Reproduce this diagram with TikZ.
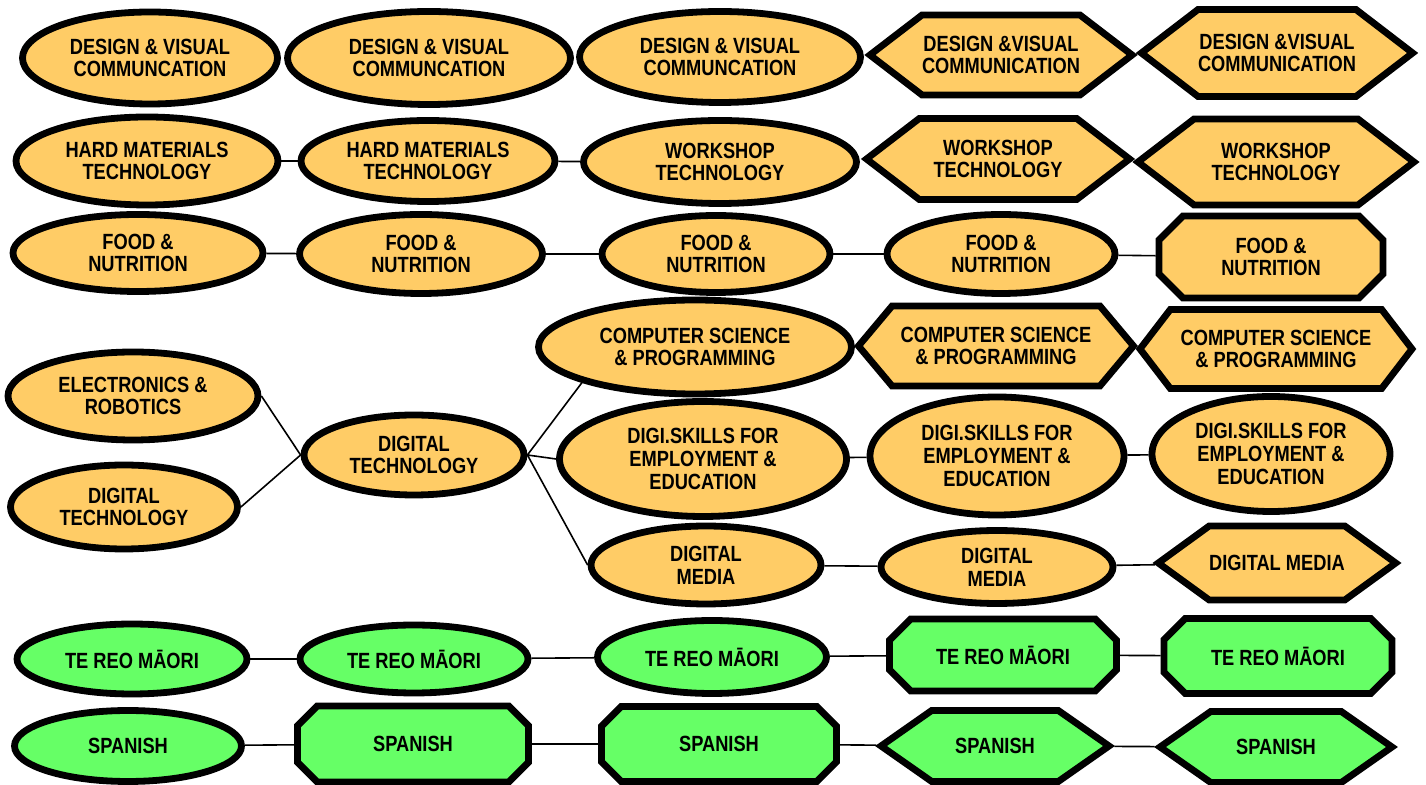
\documentclass[tikz,border=0pt]{standalone}
\usepackage{fontspec}
\setmainfont{Liberation Sans}[FakeStretch=0.83]
\usetikzlibrary{shapes.geometric,shapes.symbols,shapes.misc}
\definecolor{techfill}{RGB}{255,204,102}
\definecolor{langfill}{RGB}{102,255,102}
\begin{document}
\begin{tikzpicture}[x=0.5pt,y=-0.5pt,line join=miter,font=\bfseries\fontsize{11}{11.4}\selectfont,
	box/.style={draw=black,line width=3.4pt,align=center,inner sep=0pt,fill=techfill},
	oval/.style={box,ellipse},
	hexa/.style={box,signal,signal to=west and east,signal pointer angle=#1},
	hexa/.default=75,
	octa/.style={box,chamfered rectangle,chamfered rectangle xsep=6pt,chamfered rectangle ysep=6pt},
	lang/.style={fill=langfill},
	link/.style={line width=0.8pt}]
		\useasboundingbox (0,0) rectangle (1426,785);
		% design and visual communication
		\node[oval,minimum width=127.5pt,minimum height=46pt] (A1) at (150,58) {DESIGN \& VISUAL\\COMMUNCATION};
		\node[oval,minimum width=141.5pt,minimum height=46.5pt] (A2) at (429,58) {DESIGN \& VISUAL\\COMMUNCATION};
		\node[oval,minimum width=140.5pt,minimum height=45.5pt] (A3) at (720,57) {DESIGN \& VISUAL\\COMMUNCATION};
		\node[hexa,minimum width=127.5pt,minimum height=40pt] (A4) at (1001,55) {DESIGN \&VISUAL\\COMMUNICATION};
		\node[hexa,minimum width=129.5pt,minimum height=43.5pt] (A5) at (1277,53) {DESIGN \&VISUAL\\COMMUNICATION};
		% hard materials / workshop
		\node[oval,minimum width=131pt,minimum height=44pt] (B1) at (147,161) {HARD MATERIALS\\TECHNOLOGY};
		\node[oval,minimum width=127pt,minimum height=40.5pt] (B2) at (428,161) {HARD MATERIALS\\TECHNOLOGY};
		\node[oval,minimum width=136.5pt,minimum height=41.5pt] (B3) at (720,162) {WORKSHOP\\TECHNOLOGY};
		\node[hexa,minimum width=131.5pt,minimum height=40.5pt] (B4) at (998,159) {WORKSHOP\\TECHNOLOGY};
		\node[hexa,minimum width=138pt,minimum height=43pt] (B5) at (1276,162) {WORKSHOP\\TECHNOLOGY};
		% food
		\node[oval,minimum width=125pt,minimum height=38.5pt] (C1) at (138,253) {FOOD \&\\NUTRITION};
		\node[oval,minimum width=121.5pt,minimum height=39.5pt] (C2) at (421,254) {FOOD \&\\NUTRITION};
		\node[oval,minimum width=114pt,minimum height=38.5pt] (C3) at (716,254) {FOOD \&\\NUTRITION};
		\node[oval,minimum width=114pt,minimum height=39.5pt] (C4) at (1001,254) {FOOD \&\\NUTRITION};
		\node[octa,minimum width=112pt,minimum height=41pt] (C5) at (1271,257) {FOOD \&\\NUTRITION};
		% digital
		\node[oval,minimum width=125pt,minimum height=44pt] (D1) at (133,396) {ELECTRONICS \&\\ROBOTICS};
		\node[oval,minimum width=113.5pt,minimum height=42pt] (D2) at (124,507) {DIGITAL\\TECHNOLOGY};
		\node[oval,minimum width=110pt,minimum height=40pt] (D3) at (414,455) {DIGITAL\\TECHNOLOGY};
		\node[oval,minimum width=156.5pt,minimum height=47pt] (D4) at (695,347) {COMPUTER SCIENCE\\\& PROGRAMMING};
		\node[hexa=100,minimum width=137.5pt,minimum height=40pt] (D5) at (996,346) {COMPUTER SCIENCE\\\& PROGRAMMING};
		\node[hexa=105,minimum width=136pt,minimum height=39.5pt] (D6) at (1276,349) {COMPUTER SCIENCE\\\& PROGRAMMING};
		\node[oval,minimum width=143.5pt,minimum height=57.5pt] (D7) at (703,459) {DIGI.SKILLS FOR\\EMPLOYMENT \&\\EDUCATION};
		\node[oval,minimum width=127pt,minimum height=59pt] (D8) at (997,456) {DIGI.SKILLS FOR\\EMPLOYMENT \&\\EDUCATION};
		\node[oval,minimum width=119pt,minimum height=57.5pt] (D9) at (1271,454) {DIGI.SKILLS FOR\\EMPLOYMENT \&\\EDUCATION};
		\node[oval,minimum width=115pt,minimum height=39pt] (D10) at (706,565) {DIGITAL\\MEDIA};
		\node[oval,minimum width=116pt,minimum height=36.5pt] (D11) at (997,567) {DIGITAL\\MEDIA};
		\node[hexa=72,minimum width=118pt,minimum height=37pt] (D12) at (1277,563) {DIGITAL MEDIA};
		% languages
		\node[oval,lang,minimum width=115pt,minimum height=35pt] (E1) at (132,659) {TE REO MĀORI};
		\node[oval,lang,minimum width=114pt,minimum height=34pt] (E2) at (414,659) {TE REO MĀORI};
		\node[oval,lang,minimum width=114.5pt,minimum height=36.5pt] (E3) at (712,657) {TE REO MĀORI};
		\node[octa,lang,minimum width=113.5pt,minimum height=36pt] (E4) at (1003,655) {TE REO MĀORI};
		\node[octa,lang,minimum width=114pt,minimum height=37.5pt] (E5) at (1278,656) {TE REO MĀORI};
		\node[oval,lang,minimum width=113.5pt,minimum height=35.5pt] (F1) at (128,746) {SPANISH};
		\node[octa,lang,minimum width=115.5pt,minimum height=38pt] (F2) at (413,744) {SPANISH};
		\node[octa,lang,minimum width=117.5pt,minimum height=37.5pt] (F3) at (719,744) {SPANISH};
		\node[hexa=70,lang,minimum width=114pt,minimum height=35.5pt] (F4) at (995,746) {SPANISH};
		\node[hexa=70,lang,minimum width=116pt,minimum height=35.5pt] (F5) at (1276,747) {SPANISH};
		% links
		\foreach \a/\b in {A4/A5,B1/B2,B2/B3,C1/C2,C2/C3,C3/C4,C4/C5,D7/D8,D8/D9,D10/D11,D11/D12,E1/E2,E2/E3,E3/E4,E4/E5,F1/F2,F2/F3,F3/F4,F4/F5}
		\draw[link] (\a) -- (\b);
		\draw[link] (D1.east)--(D3.west) (D2.east)--(D3.west);
		\draw[link] (D3.east)--(D4.south west) (D3.east)--(D7.west) (D3.east)--(D10.west);
\end{tikzpicture}
\end{document}
